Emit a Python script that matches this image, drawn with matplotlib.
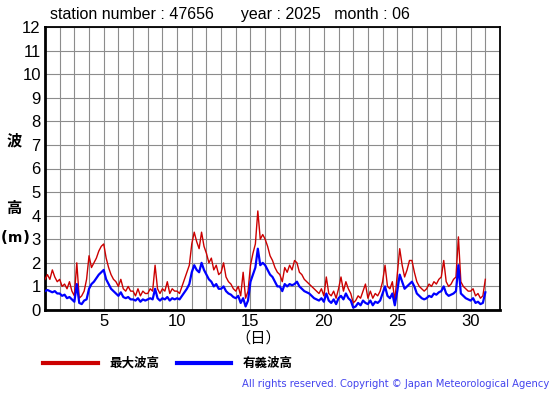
import numpy as np
import matplotlib
matplotlib.use("Agg")
import matplotlib.pyplot as plt

plt.rcParams['font.family'] = ['Liberation Sans', 'Noto Sans CJK JP', 'DejaVu Sans']

# Significant wave height (m), 6 samples per day, day 1 .. day 31 (start)
hs = [
    0.8, 0.85, 0.8, 0.75, 0.8, 0.7,
    0.7, 0.6, 0.65, 0.5, 0.55, 0.45,
    0.35, 1.1, 0.3, 0.25, 0.4, 0.45,
    0.9, 1.1, 1.2, 1.35, 1.5, 1.6,
    1.7, 1.3, 1.1, 0.9, 0.8, 0.7,
    0.6, 0.75, 0.55, 0.5, 0.55, 0.45,
    0.45, 0.4, 0.5, 0.35, 0.45, 0.4,
    0.45, 0.5, 0.45, 0.9, 0.5, 0.4,
    0.5, 0.45, 0.55, 0.4, 0.5, 0.45,
    0.5, 0.45, 0.6, 0.75, 0.9, 1.1,
    1.6, 1.9, 1.7, 1.6, 2.0, 1.7,
    1.5, 1.3, 1.2, 1.0, 1.1, 0.9,
    0.9, 1.0, 0.8, 0.7, 0.65, 0.55,
    0.5, 0.6, 0.3, 0.5, 0.15, 0.4,
    1.2, 1.5, 1.8, 2.6, 1.9, 2.0,
    1.9, 1.7, 1.5, 1.4, 1.2, 1.0,
    1.0, 0.8, 1.1, 1.0, 1.1, 1.05,
    1.1, 1.2, 1.0, 0.9, 0.8, 0.75,
    0.7, 0.6, 0.5, 0.45, 0.4, 0.5,
    0.35, 0.7, 0.4, 0.3, 0.45, 0.25,
    0.5, 0.6, 0.45, 0.7, 0.5, 0.4,
    0.1, 0.15, 0.3, 0.2, 0.4, 0.3,
    0.25, 0.4, 0.2, 0.35, 0.3, 0.4,
    0.7, 1.0, 0.6, 0.5, 0.7, 0.2,
    0.8, 1.5, 1.2, 0.9, 1.0, 1.1,
    1.2, 1.0, 0.7, 0.6, 0.5, 0.45,
    0.5, 0.6, 0.55, 0.7, 0.65, 0.75,
    0.8, 1.0, 0.7, 0.6, 0.65, 0.7,
    0.8, 1.9, 0.7, 0.6, 0.5, 0.45,
    0.4, 0.5, 0.3, 0.35, 0.25, 0.3,
    0.75,
]

# Maximum wave height (m), same sampling
hmax = [
    1.3, 1.5, 1.3, 1.7, 1.4, 1.2,
    1.3, 1.0, 1.1, 0.9, 1.2, 0.8,
    0.6, 2.0, 0.5, 0.6, 0.8, 1.3,
    2.3, 1.8, 2.0, 2.2, 2.5, 2.7,
    2.8, 2.2, 1.8, 1.5, 1.3, 1.2,
    1.0, 1.3, 0.9, 0.8, 1.0, 0.8,
    0.8, 0.6, 0.9, 0.6, 0.8, 0.7,
    0.7, 0.9, 0.8, 1.9, 0.9, 0.7,
    0.9, 0.8, 1.2, 0.7, 0.9, 0.8,
    0.8, 0.7, 1.0, 1.3, 1.6, 1.9,
    2.8, 3.3, 2.9, 2.6, 3.3, 2.7,
    2.4, 2.0, 2.2, 1.7, 1.9, 1.5,
    1.6, 2.0, 1.4, 1.2, 1.1, 0.9,
    0.8, 1.0, 0.6, 1.6, 0.5, 0.8,
    1.9, 2.4, 2.8, 4.2, 3.0, 3.2,
    3.0, 2.7, 2.3, 2.1, 1.8, 1.6,
    1.5, 1.2, 1.8, 1.6, 1.9, 1.7,
    2.1, 2.0, 1.6, 1.5, 1.3, 1.2,
    1.1, 1.0, 0.9, 0.8, 0.7, 0.9,
    0.6, 1.4, 0.7, 0.6, 0.8, 0.5,
    0.9, 1.4, 0.8, 1.2, 0.9, 0.7,
    0.3, 0.4, 0.6, 0.5, 0.8, 1.1,
    0.5, 0.8, 0.5, 0.7, 0.6, 0.8,
    1.2, 1.9, 1.0, 0.9, 1.2, 0.4,
    1.5, 2.6, 1.9, 1.4, 1.7, 2.1,
    2.1, 1.6, 1.2, 1.0, 0.9, 0.8,
    0.9, 1.1, 1.0, 1.2, 1.1, 1.3,
    1.4, 2.1, 1.2, 1.0, 1.1, 1.3,
    1.4, 3.1, 1.2, 1.0, 0.9, 0.8,
    0.8, 0.9, 0.6, 0.7, 0.5, 0.6,
    1.3,
]

samples_per_day = 6
xticks = [5, 10, 15, 20, 25, 30]
yticks = list(range(0, 13))

x = 1 + np.arange(len(hs)) / samples_per_day

fig = plt.figure(figsize=(5.55, 3.95), dpi=100)
ax = fig.add_axes([45/555, 1 - 310/395, 455/555, 283/395])

ax.plot(x, hmax, color='#cc0000', lw=1.0, zorder=3)
ax.plot(x, hs, color='#0000ff', lw=1.6, zorder=4)

ax.set_xlim(1, 32)
ax.set_ylim(0, 12)
ax.set_xticks(np.arange(1, 33))
ax.set_xticklabels([str(d) if d in xticks else '' for d in range(1, 33)])
ax.set_yticks(yticks)
ax.set_yticklabels([str(v) for v in yticks])
ax.grid(True, color='#8c8c8c', lw=0.8)
ax.tick_params(length=0, labelsize=12, pad=3)
for s in ['left', 'bottom']:
    ax.spines[s].set_linewidth(2)
for s in ['top', 'right']:
    ax.spines[s].set_linewidth(1.3)

fig.text(50/555, 1 - 15/395, 'station number : 47656      year : 2025   month : 06',
         fontsize=11.5, va='center', ha='left')

cjk = ['Noto Sans CJK JP', 'DejaVu Sans']
fig.text(14/555, 1 - 140/395, '波', fontsize=11, fontweight='bold', ha='center', va='center', family=cjk)
fig.text(14/555, 1 - 208/395, '高', fontsize=11, fontweight='bold', ha='center', va='center', family=cjk)
my = 1 - 238/395
fig.text(4/555, my, '(', fontsize=11, fontweight='bold', ha='center', va='center', family='DejaVu Sans')
fig.text(15/555, my, 'm', fontsize=10, fontweight='bold', ha='center', va='center', family='DejaVu Sans')
fig.text(26/555, my, ')', fontsize=11, fontweight='bold', ha='center', va='center', family='DejaVu Sans')

fig.text(258/555, 1 - 338/395, '（日）', fontsize=11, ha='center', va='center', family=cjk)

ly = 1 - 363/395
fig.add_artist(plt.Line2D([43/555, 98/555], [ly, ly], color='#cc0000', lw=3))
fig.text(109/555, ly, '最大波高', fontsize=9, fontweight='bold', ha='left', va='center', family=cjk)
fig.add_artist(plt.Line2D([177/555, 231/555], [ly, ly], color='#0000ff', lw=3))
fig.text(243/555, ly, '有義波高', fontsize=9, fontweight='bold', ha='left', va='center', family=cjk)

fig.text(549/555, 1 - 384/395,
         'All rights reserved. Copyright © Japan Meteorological Agency',
         fontsize=7.2, color='#4444ee', ha='right', va='center', family='DejaVu Sans')

fig.savefig('out.png', dpi=100)
